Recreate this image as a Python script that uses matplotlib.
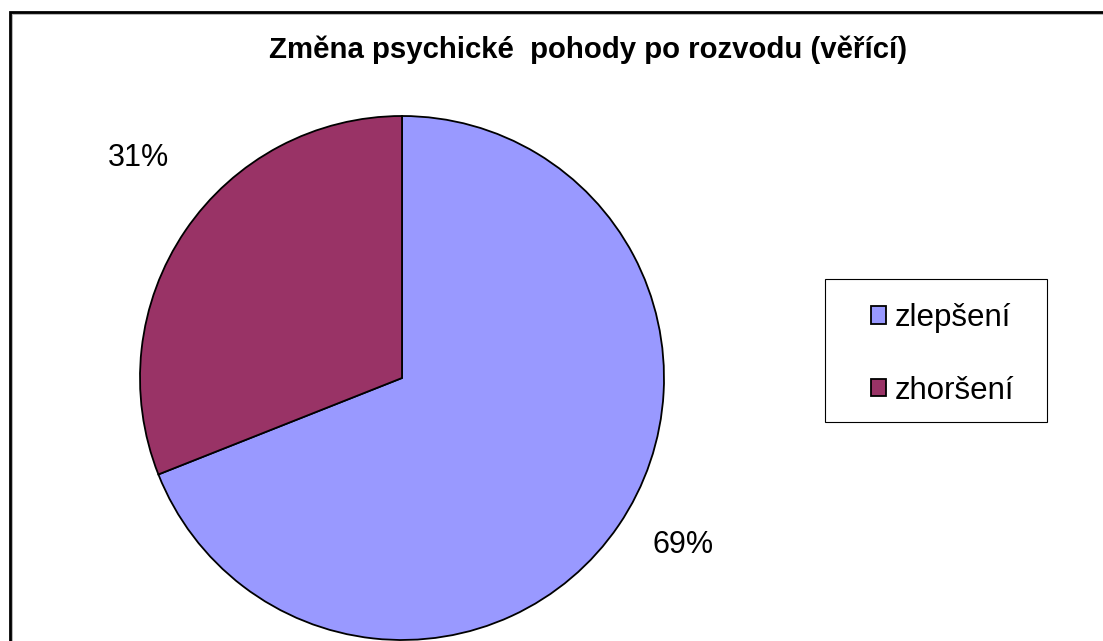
import matplotlib
matplotlib.use("Agg")
import matplotlib.pyplot as plt
from matplotlib.lines import Line2D
from matplotlib.patches import Rectangle

title = "Změna psychické  pohody po rozvodu (věřící)"
categories = ["zlepšení", "zhoršení"]
values = [69, 31]
colors = ["#9999FF", "#993366"]

plt.rcParams['font.family'] = ['Liberation Sans', 'DejaVu Sans']

W, H = 1103, 641
fig = plt.figure(figsize=(W / 100, H / 100), dpi=100)
ax = fig.add_axes([0, 0, 1, 1])

wedges, texts, autotexts = ax.pie(
    values, colors=colors, startangle=90, counterclock=False,
    center=(402, H - 378), radius=262,
    autopct=lambda p: f"{p:.0f}%", pctdistance=1.28,
    wedgeprops=dict(edgecolor='black', linewidth=1.3),
    textprops=dict(fontsize=22, color='black'),
    frame=True,
)
ax.set_xlim(0, W)
ax.set_ylim(0, H)
ax.set_aspect('equal')
ax.axis('off')

# label placement as in the reference (Excel-style outside labels)
label_pos = [(683, H - 545), (138, H - 158)]
for t, p in zip(autotexts, label_pos):
    t.set_position(p)

# outer chart frame (cropped chart area)
ax.add_line(Line2D([11, 11, W], [0, H - 13, H - 13], color='#b0b0b0', lw=2.0,
                   solid_joinstyle='miter'))
ax.add_line(Line2D([10, 10, W], [0, H - 12, H - 12], color='black', lw=2.0,
                   solid_joinstyle='miter'))

fig.text(588 / W, 1 - 50 / H, title, ha='center', va='center',
         fontsize=21.2, fontweight='bold')

# legend box
ax.add_patch(Rectangle((825, H - 422), 1047 - 825, 422 - 279, fill=False,
                       edgecolor='black', lw=0.8))
leg = fig.legend(wedges, categories, loc='center left',
                 bbox_to_anchor=(871 / W, 1 - 354.5 / H),
                 fontsize=22.5, frameon=False,
                 handlelength=0.48, handleheight=0.48, handletextpad=0.28,
                 labelspacing=1.36, borderpad=0, borderaxespad=0)

fig.savefig("out.png", dpi=100)
